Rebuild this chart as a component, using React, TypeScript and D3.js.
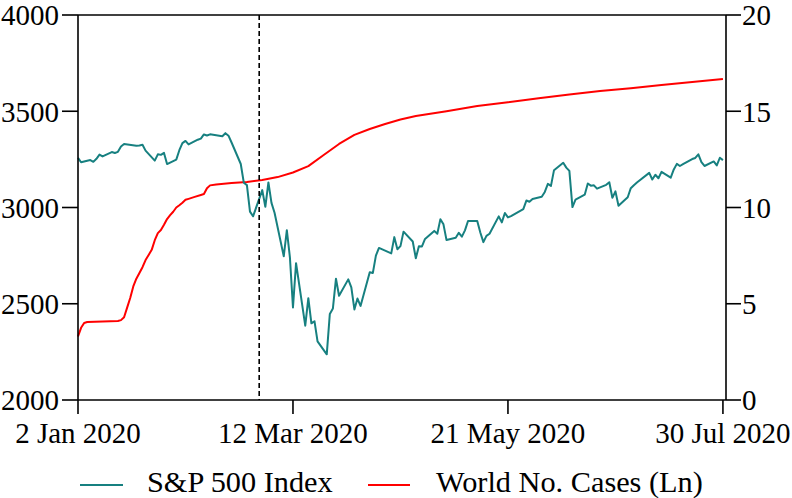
import React from "react";
import * as d3 from "d3";

const spxDates = [
  "2020-01-02","2020-01-03","2020-01-06","2020-01-07","2020-01-08","2020-01-09","2020-01-10","2020-01-13","2020-01-14","2020-01-15","2020-01-16","2020-01-17","2020-01-21","2020-01-22","2020-01-23","2020-01-24","2020-01-27","2020-01-28","2020-01-29","2020-01-30","2020-01-31",
  "2020-02-03","2020-02-04","2020-02-05","2020-02-06","2020-02-07","2020-02-10","2020-02-11","2020-02-12","2020-02-13","2020-02-14","2020-02-18","2020-02-19","2020-02-20","2020-02-21","2020-02-24","2020-02-25","2020-02-26","2020-02-27","2020-02-28",
  "2020-03-02","2020-03-03","2020-03-04","2020-03-05","2020-03-06","2020-03-09","2020-03-10","2020-03-11","2020-03-12","2020-03-13","2020-03-16","2020-03-17","2020-03-18","2020-03-19","2020-03-20","2020-03-23","2020-03-24","2020-03-25","2020-03-26","2020-03-27","2020-03-30","2020-03-31",
  "2020-04-01","2020-04-02","2020-04-03","2020-04-06","2020-04-07","2020-04-08","2020-04-09","2020-04-13","2020-04-14","2020-04-15","2020-04-16","2020-04-17","2020-04-20","2020-04-21","2020-04-22","2020-04-23","2020-04-24","2020-04-27","2020-04-28","2020-04-29","2020-04-30",
  "2020-05-01","2020-05-04","2020-05-05","2020-05-06","2020-05-07","2020-05-08","2020-05-11","2020-05-12","2020-05-13","2020-05-14","2020-05-15","2020-05-18","2020-05-19","2020-05-20","2020-05-21","2020-05-22","2020-05-26","2020-05-27","2020-05-28","2020-05-29",
  "2020-06-01","2020-06-02","2020-06-03","2020-06-04","2020-06-05","2020-06-08","2020-06-09","2020-06-10","2020-06-11","2020-06-12","2020-06-15","2020-06-16","2020-06-17","2020-06-18","2020-06-19","2020-06-22","2020-06-23","2020-06-24","2020-06-25","2020-06-26","2020-06-29","2020-06-30",
  "2020-07-01","2020-07-02","2020-07-06","2020-07-07","2020-07-08","2020-07-09","2020-07-10","2020-07-13","2020-07-14","2020-07-15","2020-07-16","2020-07-17","2020-07-20","2020-07-21","2020-07-22","2020-07-23","2020-07-24","2020-07-27","2020-07-28","2020-07-29","2020-07-30"
];
const spxValues = [
  3257.85,3234.85,3246.28,3237.18,3253.05,3274.70,3265.35,3288.13,3283.15,3289.29,3316.81,3329.62,3320.79,3321.75,3325.54,3295.47,3243.63,3276.24,3273.40,3283.66,3225.52,
  3248.92,3297.59,3334.69,3345.78,3327.71,3352.09,3357.75,3379.45,3373.94,3380.16,3370.29,3386.15,3373.23,3337.75,3225.89,3128.21,3116.39,2978.76,2954.22,
  3090.23,3003.37,3130.12,3023.94,2972.37,2746.56,2882.23,2741.38,2480.64,2711.02,2386.13,2529.19,2398.10,2409.39,2304.92,2237.40,2447.33,2475.56,2630.07,2541.47,2626.65,2584.59,
  2470.50,2526.90,2488.65,2663.68,2659.41,2749.98,2789.82,2761.63,2846.06,2783.36,2799.55,2874.56,2823.16,2736.56,2799.31,2797.80,2836.74,2878.48,2863.39,2939.51,2912.43,
  2830.71,2842.74,2868.44,2848.42,2881.19,2929.80,2930.32,2870.12,2820.00,2852.50,2863.70,2953.91,2922.94,2971.61,2948.51,2955.45,2991.77,3036.13,3029.73,3044.31,
  3055.73,3080.82,3122.87,3112.35,3193.93,3232.39,3207.18,3190.14,3002.10,3041.31,3066.59,3124.74,3113.49,3115.34,3097.74,3117.86,3131.29,3050.33,3083.76,3009.05,3053.24,3100.29,
  3115.86,3130.01,3179.72,3145.32,3169.94,3152.05,3185.04,3155.22,3197.52,3226.56,3215.57,3224.73,3251.84,3257.30,3276.02,3235.66,3215.63,3239.41,3218.44,3258.44,3246.22
];

const casesDates = [
  "2020-01-02","2020-01-03","2020-01-04","2020-01-05","2020-01-10","2020-01-15","2020-01-16","2020-01-17","2020-01-18","2020-01-19","2020-01-20","2020-01-21","2020-01-22","2020-01-23","2020-01-24","2020-01-25","2020-01-26","2020-01-27","2020-01-28","2020-01-29","2020-01-30","2020-01-31",
  "2020-02-01","2020-02-02","2020-02-03","2020-02-04","2020-02-05","2020-02-06","2020-02-07","2020-02-09","2020-02-11","2020-02-12","2020-02-13","2020-02-14","2020-02-16","2020-02-21","2020-02-26",
  "2020-03-02","2020-03-07","2020-03-12","2020-03-17","2020-03-22","2020-03-27","2020-04-01","2020-04-06","2020-04-11","2020-04-16","2020-04-21","2020-05-01","2020-05-11","2020-05-21","2020-05-31",
  "2020-06-10","2020-06-20","2020-06-30","2020-07-10","2020-07-20","2020-07-30"
];
const casesValues = [
  3.3,3.75,4.0,4.05,4.08,4.1,4.15,4.3,4.8,5.3,5.9,6.3,6.6,6.9,7.27,7.53,7.8,8.3,8.67,8.83,9.1,9.4,
  9.6,9.78,10.0,10.12,10.25,10.4,10.45,10.55,10.65,10.7,11.0,11.15,11.2,11.27,11.32,
  11.43,11.58,11.82,12.15,12.73,13.3,13.77,14.08,14.34,14.57,14.75,15.0,15.27,15.47,15.68,
  15.87,16.05,16.2,16.36,16.52,16.68
];

const leftTicks = [2000, 2500, 3000, 3500, 4000];
const rightTicks = [0, 5, 10, 15, 20];
const xTickDates = ["2020-01-02", "2020-03-12", "2020-05-21", "2020-07-30"];
const xTickLabels = ["2 Jan 2020", "12 Mar 2020", "21 May 2020", "30 Jul 2020"];
const markerDate = "2020-03-01";
const seriesNames = ["S&P 500 Index", "World No. Cases (Ln)"];

const TEAL = "#178080";
const RED = "#ff0000";
const FONT = "'Liberation Serif', serif";
const FS = 29;
const FS_LEG = 30.3;

export default function App() {
  const parse = d3.utcParse("%Y-%m-%d");
  const L = 78, R = 726, T = 15, B = 400;
  const x = d3.scaleUtc().domain([parse("2020-01-02")!, parse("2020-07-31")!]).range([L, R]);
  const yL = d3.scaleLinear().domain([2000, 4000]).range([B, T]);
  const yR = d3.scaleLinear().domain([0, 20]).range([B, T]);

  const spx = spxDates.map((d, i) => ({ d: parse(d)!, v: spxValues[i] }));
  const cases = casesDates.map((d, i) => ({ d: parse(d)!, v: casesValues[i] }));

  const lineL = d3.line<{ d: Date; v: number }>().x((p) => x(p.d)).y((p) => yL(p.v));
  const lineR = d3.line<{ d: Date; v: number }>().x((p) => x(p.d)).y((p) => yR(p.v));

  const sw = 1.6;
  const mx = x(parse(markerDate)!);
  const ts: React.CSSProperties = { fontFamily: FONT, fontSize: FS };
  const ls: React.CSSProperties = { fontFamily: FONT, fontSize: FS_LEG };

  return (
    <svg width={792} height={498} style={{ position: "absolute", left: 0, top: 0, background: "#fff" }}>
      <rect x={0} y={0} width={792} height={498} fill="#fff" />
      <path d={lineR(cases)!} fill="none" stroke={RED} strokeWidth={2} strokeLinejoin="round" />
      <path d={lineL(spx)!} fill="none" stroke={TEAL} strokeWidth={2} strokeLinejoin="round" />
      <line x1={mx} x2={mx} y1={T} y2={B} stroke="#000" strokeWidth={1.6} strokeDasharray="5,3" />

      <line x1={L} x2={R} y1={T} y2={T} stroke="#000" strokeWidth={sw} />
      <line x1={L} x2={R} y1={B} y2={B} stroke="#000" strokeWidth={sw} />
      <line x1={L} x2={L} y1={T} y2={B} stroke="#000" strokeWidth={sw} />
      <line x1={R} x2={R} y1={T} y2={B} stroke="#000" strokeWidth={sw} />

      {leftTicks.map((t) => (
        <g key={"l" + t}>
          <line x1={L - 16} x2={L} y1={yL(t)} y2={yL(t)} stroke="#000" strokeWidth={sw} />
          <text x={L - 19} y={yL(t)} dy="0.36em" textAnchor="end" style={ts} fill="#000">{t}</text>
        </g>
      ))}
      {rightTicks.map((t) => (
        <g key={"r" + t}>
          <line x1={R} x2={R + 15} y1={yR(t)} y2={yR(t)} stroke="#000" strokeWidth={sw} />
          <text x={R + 16} y={yR(t)} dy="0.36em" textAnchor="start" style={ts} fill="#000">{t}</text>
        </g>
      ))}
      {xTickDates.map((d, i) => {
        const xx = x(parse(d)!);
        return (
          <g key={"x" + d}>
            <line x1={xx} x2={xx} y1={B} y2={B + 14} stroke="#000" strokeWidth={sw} />
            <text x={xx} y={443} textAnchor="middle" style={ts} fill="#000">{xTickLabels[i]}</text>
          </g>
        );
      })}

      <line x1={80} x2={123} y1={485} y2={485} stroke={TEAL} strokeWidth={2} />
      <text x={147} y={492} style={ls} fill="#000">{seriesNames[0]}</text>
      <line x1={368} x2={410} y1={485} y2={485} stroke={RED} strokeWidth={2} />
      <text x={436} y={492} style={ls} fill="#000">{seriesNames[1]}</text>
    </svg>
  );
}
